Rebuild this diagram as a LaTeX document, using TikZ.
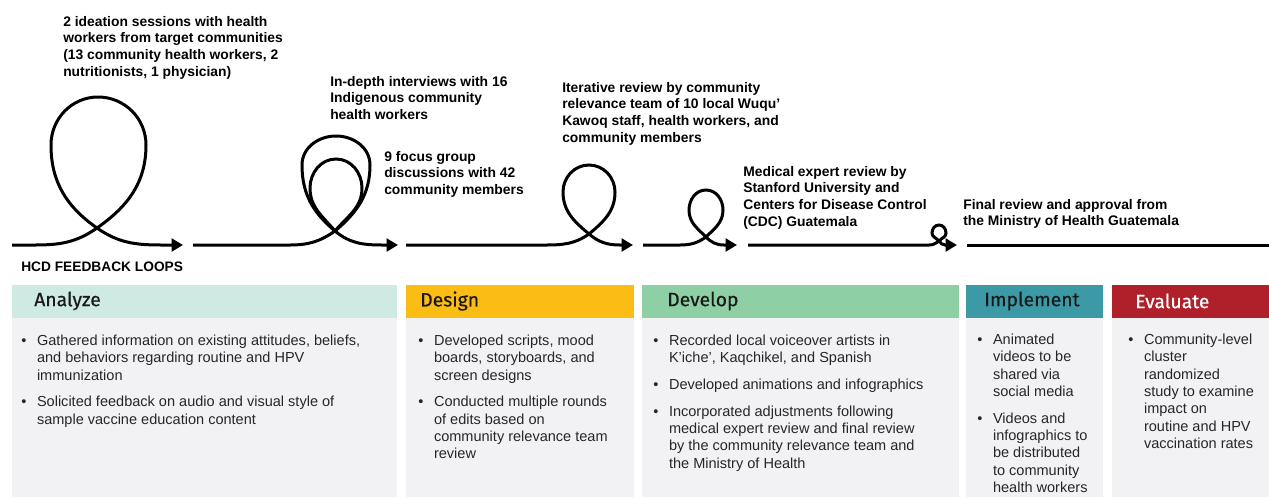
\documentclass[tikz,border=0pt]{standalone}
\usepackage{fontspec}
\setmainfont{Liberation Sans}
\newfontfamily\headfont{Fira Sans}[FakeBold=0.5]
\usepackage{xcolor}
\usetikzlibrary{arrows.meta}
\definecolor{analyzehead}{RGB}{207,233,227}
\definecolor{designhead}{RGB}{251,189,20}
\definecolor{develophead}{RGB}{143,207,166}
\definecolor{implementhead}{RGB}{59,154,165}
\definecolor{evaluatehead}{RGB}{176,32,42}
\definecolor{panelbody}{RGB}{242,242,245}
\definecolor{bodytext}{RGB}{38,38,38}

% bullet lists: bullet column, text column, gap between items
\newenvironment{bullist}{\begin{tabular}{@{}l@{\hspace{8pt}}l@{}}}{\end{tabular}}
\newcommand{\bul}{\textbullet}
\newcommand{\gap}{\\[7pt]}

\tikzset{
  flow/.style={line width=2.25pt,-{Triangle[length=8.5pt,width=9.5pt]}},
  loopline/.style={line width=2.25pt},
  note/.style={anchor=north west,inner sep=0pt,align=left,
    font=\bfseries\fontsize{10.4}{12.5}\selectfont},
  phase/.style={anchor=west,inner sep=0pt,text=black!90,
    font=\headfont\fontsize{14.5}{16}\selectfont},
  bullets/.style={anchor=north west,inner sep=0pt,text=bodytext,
    font=\fontsize{10.9}{13}\selectfont},
}

\begin{document}
\begin{tikzpicture}[x=0.75pt,y=0.75pt]
\useasboundingbox (0,0) rectangle (1269,-497);

% feedback loops
\coordinate (a0) at (12,-245);  \coordinate (a1) at (183,-245);
\coordinate (b0) at (193,-245); \coordinate (b1) at (398,-245);
\coordinate (c0) at (406,-245); \coordinate (c1) at (633,-245);
\coordinate (d0) at (643,-245); \coordinate (d1) at (737,-245);
\coordinate (e0) at (748,-245); \coordinate (e1) at (957,-245);
\coordinate (f0) at (967,-245); \coordinate (f1) at (1269,-245);

\draw[flow] (a0) -- (35,-245) to[out=0,in=215] (97,-228) to[out=35,in=270] (146,-145)
  to[out=90,in=0] (98,-97) to[out=180,in=90] (51,-145) to[out=270,in=145] (97,-228)
  to[out=-35,in=180] (162,-245) -- (a1);
\draw[flow] (b0) -- (290,-245) to[out=0,in=215] (335,-231) to[out=40,in=270] (370,-165)
  to[out=90,in=0] (336,-136) to[out=180,in=90] (302,-165) to[out=270,in=140] (335,-231)
  to[out=-40,in=180] (383,-245) -- (b1);
\draw[loopline] (335,-231) to[out=50,in=270] (362,-188) to[out=90,in=0] (336,-159)
  to[out=180,in=90] (310,-188) to[out=270,in=130] (335,-231);
\draw[flow] (c0) -- (545,-245) to[out=0,in=215] (589,-234) to[out=40,in=270] (615,-192)
  to[out=90,in=0] (589,-165) to[out=180,in=90] (563,-192) to[out=270,in=140] (589,-234)
  to[out=-40,in=180] (620,-245) -- (c1);
\draw[flow] (d0) -- (680,-245) to[out=0,in=215] (706,-237) to[out=45,in=270] (723,-210)
  to[out=90,in=0] (706,-190) to[out=180,in=90] (689,-210) to[out=270,in=135] (706,-237)
  to[out=-45,in=180] (724,-245) -- (d1);
\draw[flow] (e0) -- (929,-245) to[out=0,in=215] (939,-241) to[out=50,in=270] (946,-233)
  to[out=90,in=0] (939,-225) to[out=180,in=90] (932,-233) to[out=270,in=130] (939,-241)
  to[out=-50,in=180] (945,-245) -- (e1);
\draw[loopline] (f0) -- (f1);

% loop labels
\node[note] (ideation) at (63,-16) {2 ideation sessions with health\\workers from target communities\\(13 community health workers, 2\\nutritionists, 1 physician)};
\node[note] (interviews) at (330,-76) {In-depth interviews with 16\\Indigenous community\\health workers};
\node[note] (focus) at (384,-151) {9 focus group\\discussions with 42\\community members};
\node[note] (iterative) at (562,-82) {Iterative review by community\\relevance team of 10 local Wuqu'\\Kawoq staff, health workers, and\\community members};
\node[note] (expert) at (743,-166) {Medical expert review by\\Stanford University and\\Centers for Disease Control\\(CDC) Guatemala};
\node[note] (approval) at (963,-199) {Final review and approval from\\the Ministry of Health Guatemala};
\node[note,font=\bfseries\fontsize{10.3}{12}\selectfont] (hcd) at (21,-262) {HCD FEEDBACK LOOPS};

% phase panels
\fill[analyzehead] (12,-285) rectangle (397,-318);
\fill[designhead] (406,-285) rectangle (634,-318);
\fill[develophead] (642,-285) rectangle (959,-318);
\fill[implementhead] (966,-285) rectangle (1103,-318);
\fill[evaluatehead] (1112,-285) rectangle (1269,-318);
\fill[panelbody] (12,-318) rectangle (397,-497);
\fill[panelbody] (406,-318) rectangle (634,-497);
\fill[panelbody] (642,-318) rectangle (959,-497);
\fill[panelbody] (966,-318) rectangle (1103,-497);
\fill[panelbody] (1112,-318) rectangle (1269,-497);

\node[phase] (analyze) at (34,-301) {Analyze};
\node[phase] (design) at (420,-301) {Design};
\node[phase] (develop) at (667,-301) {Develop};
\node[phase] (implement) at (984,-301) {Implement};
\node[phase,text=white] (evaluate) at (1135,-301) {Evaluate};

\node[bullets] (analyzetxt) at (21,-333) {\begin{bullist}
  \bul & Gathered information on existing attitudes, beliefs,\\
       & and behaviors regarding routine and HPV\\
       & immunization\gap
  \bul & Solicited feedback on audio and visual style of\\
       & sample vaccine education content
\end{bullist}};
\node[bullets] (designtxt) at (418,-333) {\begin{bullist}
  \bul & Developed scripts, mood\\
       & boards, storyboards, and\\
       & screen designs\gap
  \bul & Conducted multiple rounds\\
       & of edits based on\\
       & community relevance team\\
       & review
\end{bullist}};
\node[bullets] (developtxt) at (653,-333) {\begin{bullist}
  \bul & Recorded local voiceover artists in\\
       & K’iche’, Kaqchikel, and Spanish\gap
  \bul & Developed animations and infographics\gap
  \bul & Incorporated adjustments following\\
       & medical expert review and final review\\
       & by the community relevance team and\\
       & the Ministry of Health
\end{bullist}};
\node[bullets] (implementtxt) at (977,-332) {\begin{bullist}
  \bul & Animated\\
       & videos to be\\
       & shared via\\
       & social media\gap
  \bul & Videos and\\
       & infographics to\\
       & be distributed\\
       & to community\\
       & health workers
\end{bullist}};
\node[bullets] (evaluatetxt) at (1128,-332) {\begin{bullist}
  \bul & Community-level\\
       & cluster\\
       & randomized\\
       & study to examine\\
       & impact on\\
       & routine and HPV\\
       & vaccination rates
\end{bullist}};
\end{tikzpicture}
\end{document}
